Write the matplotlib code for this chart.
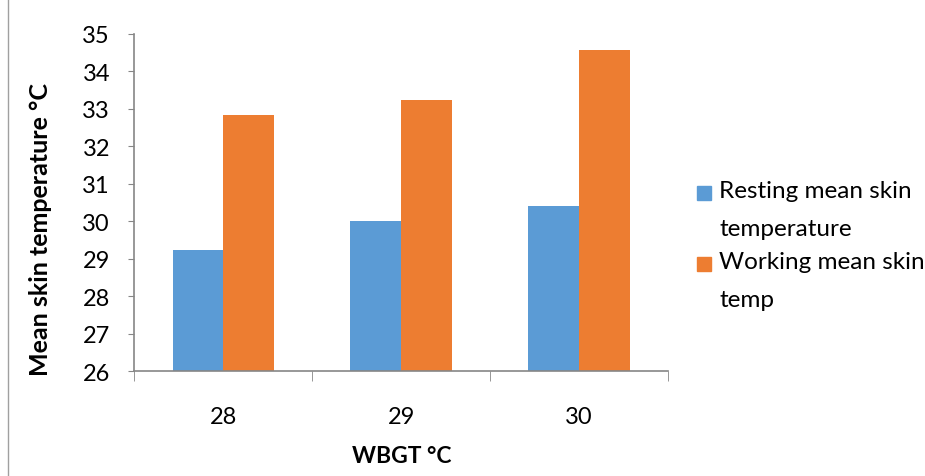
import matplotlib
matplotlib.use('Agg')
import numpy as np
import matplotlib.pyplot as plt
from matplotlib.lines import Line2D
from matplotlib.patches import Rectangle

# data
wbgt = ['28', '29', '30']
resting = [29.24, 30.02, 30.40]
working = [32.84, 33.23, 34.57]
series_labels = ['Resting mean skin\ntemperature', 'Working mean skin\ntemp']
colors = ['#5B9BD5', '#ED7D31']
y_ticks = list(range(26, 36))

plt.rcParams['font.family'] = ['Lato', 'DejaVu Sans']

W, H = 925, 477
fig = plt.figure(figsize=(W / 100, H / 100), dpi=100)
ax = fig.add_axes([134.3 / W, 1 - 372.3 / H, 533.7 / W, 337.6 / H])

x = np.arange(len(wbgt))
w = 0.285
ax.bar(x - w / 2, resting, w, color=colors[0])
ax.bar(x + w / 2, working, w, color=colors[1])

ax.set_xlim(-0.5, len(wbgt) - 0.5)
ax.set_ylim(26, 35)
ax.set_yticks(y_ticks)
ax.tick_params(axis='y', labelsize=17, length=4.5, color='#868686', pad=13)

ax.set_xticks(x)
ax.set_xticklabels(wbgt, fontsize=17)
ax.tick_params(axis='x', length=0, pad=25)
ax.set_xticks(np.arange(-0.5, len(wbgt)), minor=True)
ax.tick_params(axis='x', which='minor', length=7.5, color='#868686')

for s in ['top', 'right']:
    ax.spines[s].set_visible(False)
for s in ['left', 'bottom']:
    ax.spines[s].set_color('#868686')
    ax.spines[s].set_linewidth(1.2)

fig.text(402 / W, 1 - 456.5 / H, 'WBGT °C', fontsize=16.5, fontweight='bold',
         ha='center', va='center')
fig.text(41 / W, 1 - 229 / H, 'Mean skin temperature °C', fontsize=18,
         fontweight='bold', rotation=90, ha='center', va='center')

# legend, handle aligned with the first text line like the original
for i, (lab, c) in enumerate(zip(series_labels, colors)):
    yc = 194 + i * 71
    fig.add_artist(Rectangle((697 / W, 1 - (yc + 7) / H), 14 / W, 14 / H,
                             transform=fig.transFigure, color=c))
    fig.text(719 / W, 1 - (yc - 13) / H, lab, fontsize=17.5, ha='left',
             va='top', linespacing=2.0)

fig.add_artist(Line2D([8 / W, 8 / W], [0, 1], color='#a0a0a0', lw=1))

fig.savefig('out.png', dpi=100)
